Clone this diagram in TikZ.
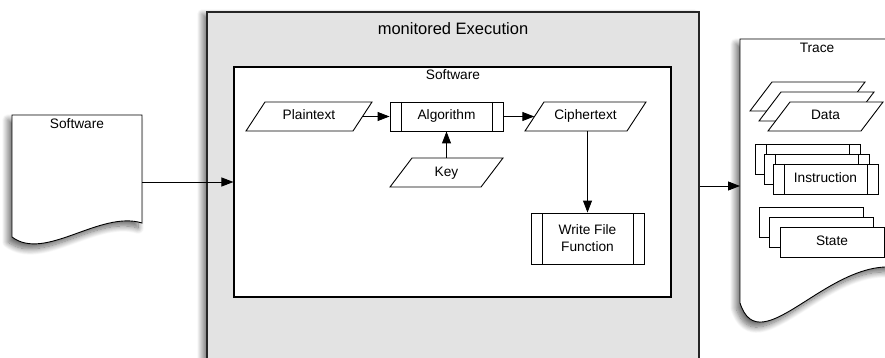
\documentclass[tikz,border=0pt]{standalone}
\usepackage{fontspec}
\setmainfont{Liberation Sans}
\usetikzlibrary{arrows.meta,shadows.blur}

% Input/output parallelogram: name, centre x, centre y, full width, slant, text.
% The named node spans the middle of the slanted sides, so its east/west
% anchors sit on the parallelogram's border.
\newcommand\ioshape[6]{%
  \pgfmathsetmacro\ioL{#2-#4/2}\pgfmathsetmacro\ioR{#2+#4/2}%
  \pgfmathsetmacro\ioT{#3-14.5}\pgfmathsetmacro\ioB{#3+14.5}%
  \filldraw[line, fill=white] (\ioL,\ioB) -- (\ioL+#5,\ioT) -- (\ioR,\ioT) -- (\ioR-#5,\ioB) -- cycle;
  \node[rectangle, inner sep=0pt, minimum width=#4pt-#5pt, minimum height=29pt] (#1) at (#2,#3) {#6};
}

\begin{document}
\begin{tikzpicture}[x=1pt,y=-1pt,
  every node/.style={font=\fontsize{13.7}{17}\selectfont, text height=10pt, text depth=3pt},
  line/.style={draw=black, line width=0.9pt},
  arr/.style={line, -{Triangle[length=12pt,width=9pt]}},
  procbox/.style={rectangle, draw=black, fill=white, line width=0.9pt, inner sep=0pt,
    path picture={
      \draw[line width=0.9pt]
        ([xshift=11pt]path picture bounding box.north west) -- ([xshift=11pt]path picture bounding box.south west)
        ([xshift=-11pt]path picture bounding box.north east) -- ([xshift=-11pt]path picture bounding box.south east);}},
  statebox/.style={rectangle, draw=black, fill=white, line width=0.9pt, inner sep=0pt,
    minimum width=104pt, minimum height=30pt},
  docshadow/.style={blur shadow={shadow xshift=-4pt, shadow yshift=-5pt,
    shadow blur radius=6pt, shadow blur steps=12, shadow opacity=60}},
  title/.style={anchor=base, text height=, text depth=},
]
\useasboundingbox (0,0) rectangle (885,358);

% outer execution environment
\node[rectangle, draw=black!85, line width=1.6pt, fill=black!11, minimum width=492pt,
  minimum height=368pt, inner sep=0pt,
  blur shadow={shadow xshift=-5pt, shadow yshift=-2pt, shadow blur radius=5pt,
    shadow blur steps=10, shadow opacity=50}] (exec) at (453,196) {};
\node[title, font=\fontsize{16.5}{20}\selectfont] (exectitle) at (453,34.5) {monitored Execution};

% software under execution
\node[rectangle, draw=black, fill=white, line width=1.1pt, minimum width=437pt,
  minimum height=230pt, inner sep=0pt] (sw) at (452.5,182) {};
\node[title] (swtitle) at (453,80) {Software};

% flowchart inside the software
\ioshape{plain}{309}{116.5}{126}{19}{Plaintext}
\node[procbox, minimum width=113pt, minimum height=29pt] (algo) at (446.5,116.5) {Algorithm};
\ioshape{cipher}{585.5}{116.5}{121}{19}{Ciphertext}
\ioshape{key}{446.5}{172.5}{113}{22}{Key}
\node[procbox, minimum width=113pt, minimum height=51pt, align=center,
  text height=, text depth=] (write) at (587.5,238.5) {Write File\\Function};

\draw[arr] (plain.east) -- (algo.west);
\draw[arr] (algo.east) -- (cipher.west);
\draw[arr] (key.north) -- (algo.south);
\draw[arr] (write.north |- cipher.south) -- (write.north);

% input program document
\draw[line, fill=white, docshadow]
  (12,115) -- (142,115) -- (142,223) .. controls (100,210) and (45,262) .. (12,237) -- cycle;
\node[minimum width=130pt, minimum height=108pt, inner sep=0pt, text height=, text depth=] (swdoc) at (77,169) {};
\node[title] (swdoclabel) at (77,128.5) {Software};

% trace document
\draw[line, fill=white, docshadow]
  (900,39) -- (740,39) -- (740,303) .. controls (760,365) and (830,255) .. (900,268) -- cycle;
\node[title] (tracelabel) at (817,52.7) {Trace};
\coordinate (tracein) at (740,186);

% stacked data records
\ioshape{data3}{807.5}{96.5}{115}{22}{}
\ioshape{data2}{816.5}{106.5}{115}{22}{}
\ioshape{data}{825.5}{116.5}{115}{22}{Data}

% stacked instruction records
\node[procbox, minimum width=105pt, minimum height=30pt] (instr3) at (808,159) {};
\node[procbox, minimum width=105pt, minimum height=30pt] (instr2) at (817,169) {};
\node[procbox, minimum width=105pt, minimum height=30pt] (instr) at (825.5,179) {Instruction};

% stacked state records
\node[statebox] (state3) at (811,222) {};
\node[statebox] (state2) at (821.5,232) {};
\node[statebox] (state) at (832,242) {State};

% data flow between the documents and the execution
\draw[arr] (swdoc.east |- sw.west) -- (sw.west);
\draw[arr] (exec.east |- tracein) -- (tracein);
\end{tikzpicture}
\end{document}
